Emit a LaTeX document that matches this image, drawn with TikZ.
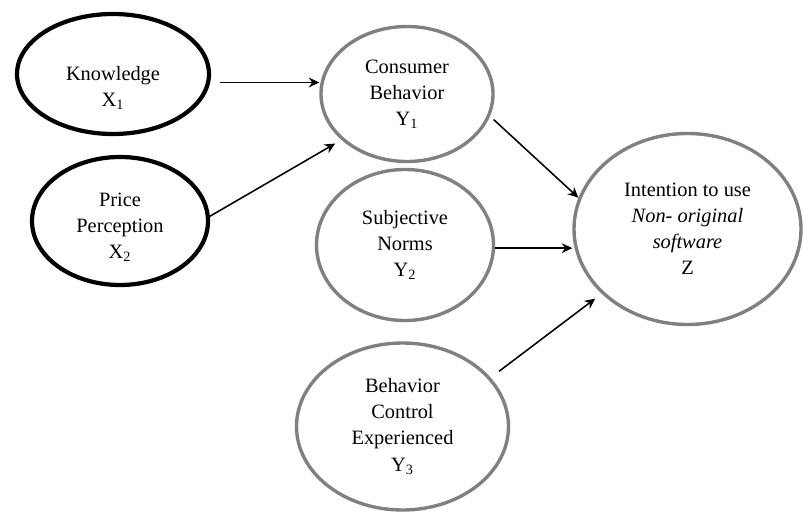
\documentclass[tikz,border=0pt]{standalone}
\usepackage{fontspec}
\setmainfont{Liberation Serif}
\usetikzlibrary{shapes.geometric,arrows.meta}
\definecolor{ringgray}{RGB}{128,128,128}

\begin{document}
\begin{tikzpicture}[>={Stealth[length=7.5pt,width=7pt]},
  varfont/.style={align=center,font=\fontsize{14.5}{18.5}\selectfont},
  var/.style={ellipse,draw,inner sep=0pt,varfont},
  exo/.style={var,line width=3pt,black},
  endo/.style={var,line width=2.4pt,draw=ringgray,text=black},
  arr/.style={->,line width=1.1pt}]
  \useasboundingbox (0,0) rectangle (20.075,-12.825);
  \node[exo,minimum width=4.8cm,minimum height=3.0cm] (kn) at (2.825,-1.85) {};
  \node[varfont] (kntext) at ([yshift=-0.35cm]kn.center) {Knowledge\\X\textsubscript{1}};
  \node[exo,minimum width=4.4cm,minimum height=3.2cm] (pp) at (3.0,-5.525) {};
  \node[varfont] (pptext) at ([yshift=-0.15cm]pp.center) {Price\\Perception\\X\textsubscript{2}};
  \node[endo,minimum width=4.3cm,minimum height=3.375cm] (cb) at (10.175,-2.35) {Consumer\\Behavior\\Y\textsubscript{1}};
  \node[endo,minimum width=4.425cm,minimum height=3.775cm] (sn) at (10.125,-6.125) {Subjective\\Norms\\Y\textsubscript{2}};
  \node[endo,minimum width=5.3cm,minimum height=4.175cm] (bc) at (10.0625,-10.6625) {Behavior\\Control\\Experienced\\Y\textsubscript{3}};
  \node[endo,minimum width=5.675cm,minimum height=4.775cm] (iz) at (17.1875,-5.725) {Intention to use\\\textit{Non- original}\\\textit{software}\\Z};
  \draw[arr,shorten <=0.25cm] (kn.-5) -- (kn.-5 -| cb.west);
  \draw[arr,shorten >=0.18cm] (pp.3) -- (cb.215);
  \draw[arr,shorten <=0.12cm] (cb.-15) -- (iz.164);
  \draw[arr] (sn.-2) -- (sn.-2 -| iz.west);
  \draw[arr,shorten <=0.26cm,shorten >=0.2cm] (bc.29) -- (iz.217);
\end{tikzpicture}
\end{document}
